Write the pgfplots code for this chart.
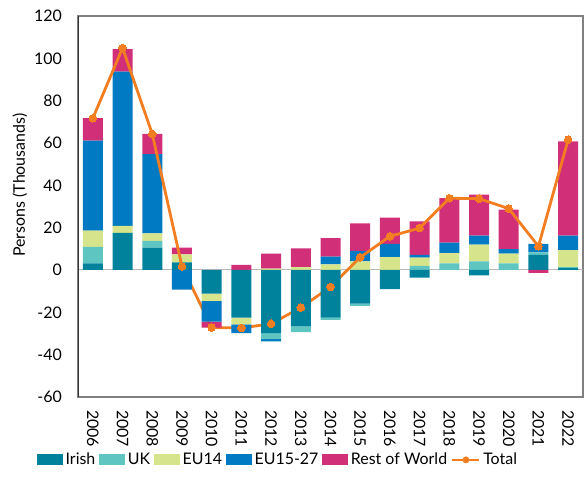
\documentclass[border=0pt]{standalone}
\usepackage{pgfplots}
\pgfplotsset{compat=1.18}
\usepackage{pgfplotstable}
\usepackage{fontspec}
\setmainfont{Lato}
\definecolor{irish}{RGB}{0,130,157}
\definecolor{ukc}{RGB}{95,197,193}
\definecolor{euf}{RGB}{214,228,139}
\definecolor{eut}{RGB}{0,122,194}
\definecolor{row}{RGB}{209,48,121}
\definecolor{totc}{RGB}{243,125,33}
\definecolor{frame}{RGB}{128,128,128}

\pgfplotstableread{
x Irish UK EU14 EU1527 RoW
0 3.1 7.8 7.7 42.5 10.6
1 17.5 0 3.4 72.8 10.7
2 10.6 3.1 3.6 37.5 9.5
3 3.6 0 3.8 0 3.2
4 0 0 0 0 0
5 0 0 0 0 2.4
6 0 0 0.6 0 7.1
7 0 0 1.4 0 8.8
8 0 0 2.7 3.6 8.7
9 0 0 4.1 4.9 13.0
10 0 0 6.1 6.2 12.4
11 0 1.9 3.9 1.3 15.9
12 0 3.1 4.9 4.9 21.0
13 0 4.1 7.9 4.2 19.4
14 0 3.1 4.6 2.2 18.6
15 7.1 1.2 0 4.1 0
16 0.9 0.5 8.0 6.8 44.6
}\postab

\pgfplotstableread{
x Irish UK EU14 EU1527 RoW
0 0 0 0 0 0
1 0 0 0 0 0
2 0 0 0 0 0
3 0 0 0 -9.3 0
4 -11.2 0 -3.4 -9.8 -2.8
5 -22.5 0 -3.2 -4.1 0
6 -29.8 -2.8 0 -1.1 0
7 -26.6 -2.8 0 0 0
8 -22.5 -1.1 0 0 0
9 -15.9 -1.0 0 0 0
10 -9.0 0 0 0 0
11 -3.6 0 0 0 0
12 0 0 0 0 0
13 -2.5 0 0 0 0
14 0 0 0 0 0
15 0 0 0 0 -1.4
16 0 0 0 0 0
}\negtab

\pgfplotstableread{
x T
0 71.7
1 104.9
2 64.3
3 1.7
4 -27.2
5 -27.4
6 -25.4
7 -17.8
8 -8.0
9 6.0
10 15.9
11 19.8
12 33.9
13 33.7
14 29.0
15 11.2
16 61.6
}\tottab

\pgfplotsset{
  mybase/.style={
    width=505bp, height=381bp, scale only axis,
    xmin=-0.5, xmax=16.5, ymin=-60, ymax=120,
    at={(0,0)}, anchor=south west,
    ybar stacked, bar width=20bp,
  },
  barleg/.style={legend image code/.code={\fill[##1] (0bp,-5.5bp) rectangle (26bp,5.5bp);}},
}

\begin{document}
\begin{tikzpicture}
\begin{axis}[mybase,
  axis line style={draw=frame, line width=1.2bp},
  major tick length=0pt,
  ytick={-60,-40,-20,0,20,40,60,80,100,120},
  yticklabels={-60,-40,-20,0,20,40,60,80,100,120},
  xtick={0,...,16},
  xticklabels={2006,2007,2008,2009,2010,2011,2012,2013,2014,2015,2016,2017,2018,2019,2020,2021,2022},
  tick label style={font=\fontsize{16}{19}\selectfont, inner sep=0pt},
  yticklabel shift=16bp,
  xticklabel shift=13bp,
  xticklabel style={rotate=-90, anchor=west},
  ylabel={Persons (Thousands)},
  ylabel style={font=\fontsize{16}{19}\selectfont, at={(axis description cs:-0.115,0.556)}, anchor=center},
  extra y ticks={0}, extra y tick labels={},
  extra y tick style={grid=major, major grid style={draw=gray!55, line width=1bp}},
  legend columns=-1,
  legend style={at={(axis description cs:-0.081,-0.165)}, anchor=west, draw=none, fill=none,
    inner sep=0pt, outer sep=0pt, font=\fontsize{16}{19}\selectfont,
    nodes={inner sep=0pt},
    /tikz/every odd column/.append style={column sep=2.5bp},
    /tikz/every even column/.append style={column sep=4bp}},
]
\addplot[barleg, fill=irish, draw=none] table[x=x,y=Irish]{\postab};
\addlegendentry{Irish}
\addplot[barleg, fill=ukc, draw=none] table[x=x,y=UK]{\postab};
\addlegendentry{UK}
\addplot[barleg, fill=euf, draw=none] table[x=x,y=EU14]{\postab};
\addlegendentry{EU14}
\addplot[barleg, fill=eut, draw=none] table[x=x,y=EU1527]{\postab};
\addlegendentry{EU15-27}
\addplot[barleg, fill=row, draw=none] table[x=x,y=RoW]{\postab};
\addlegendentry{Rest of World}
\addlegendimage{legend image code/.code={\draw[totc, line width=2.6bp] (0bp,0bp) -- (27bp,0bp); \fill[totc] (13.5bp,0bp) circle (3.2bp);}}
\addlegendentry{Total}
\end{axis}
\begin{axis}[mybase, hide axis]
\addplot[fill=irish, draw=none] table[x=x,y=Irish]{\negtab};
\addplot[fill=ukc, draw=none] table[x=x,y=UK]{\negtab};
\addplot[fill=euf, draw=none] table[x=x,y=EU14]{\negtab};
\addplot[fill=eut, draw=none] table[x=x,y=EU1527]{\negtab};
\addplot[fill=row, draw=none] table[x=x,y=RoW]{\negtab};
\addplot[sharp plot, stack plots=false, draw=totc, line width=2.8bp, mark=*, mark size=3.8bp, mark options={fill=totc, draw=totc, line width=0pt}] table[x=x,y=T]{\tottab};
\draw[draw=black!80, line width=1.2bp] (rel axis cs:0,0) -- (rel axis cs:0,1);
\end{axis}
\pgfresetboundingbox
\path (-78bp,-98bp) rectangle (506bp,397bp);
\end{tikzpicture}
\end{document}
